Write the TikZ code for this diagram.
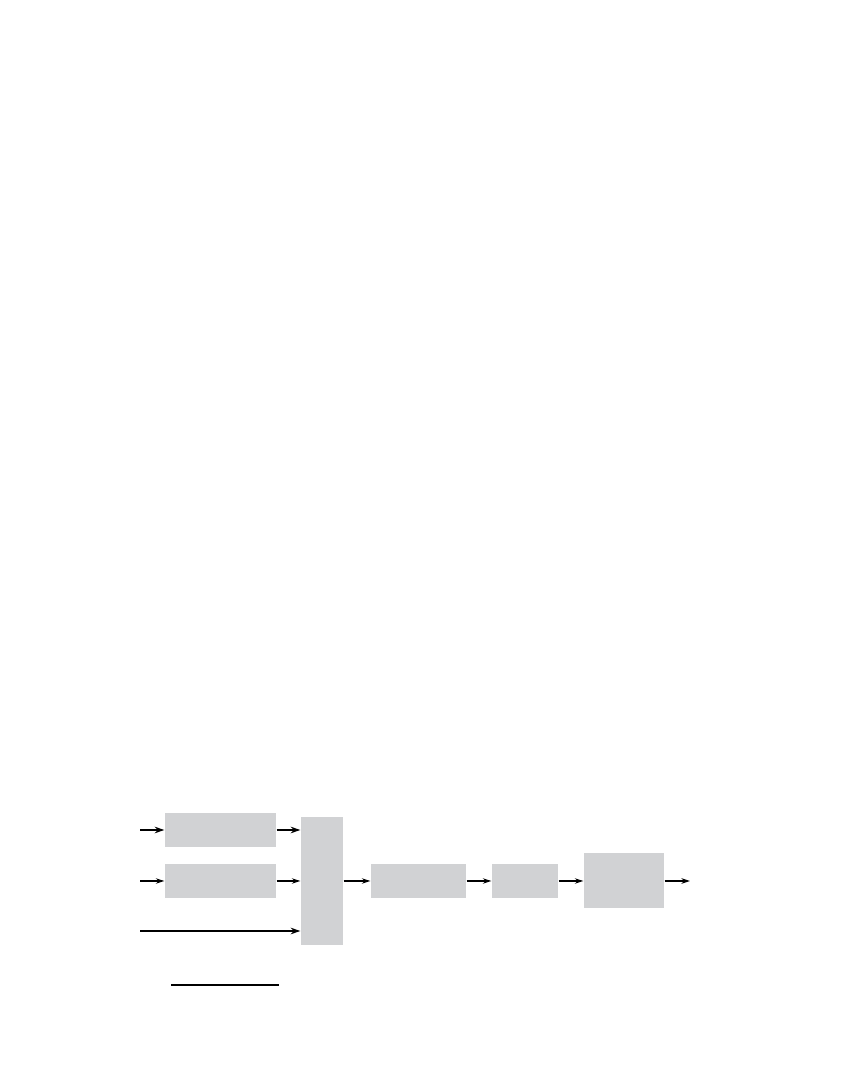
\documentclass[tikz,border=0pt]{standalone}
\usepackage{tikz}
\usetikzlibrary{arrows.meta}
\definecolor{boxgray}{RGB}{209,210,212}

\begin{document}
\begin{tikzpicture}
\tikzstyle{block}=[rectangle,fill=boxgray,inner sep=0pt,minimum height=3.4mm]
\tikzstyle{thin}=[line width=0.32pt,-{Stealth[length=0.85mm,width=0.55mm]}]
\tikzstyle{heavy}=[line width=0.6pt,-{Stealth[length=0.95mm,width=0.65mm]}]
\useasboundingbox (0,0) rectangle (8.64,10.8);

% Input side
\node (BLKA) [block,minimum width=11.1mm] at (2.205,2.50) {};
\node (BLKB) [block,minimum width=11.1mm] at (2.205,1.99) {};
\node (MUX) [block,minimum width=4.2mm,minimum height=12.8mm] at (3.22,1.99) {};

% Chain after the tall block
\node (BLKC) [block,minimum width=9.5mm] at (4.185,1.99) {};
\node (BLKD) [block,minimum width=6.6mm] at (5.25,1.99) {};
\node (BLKE) [block,minimum width=8mm,minimum height=5.5mm] at (6.24,1.99) {};

% Free ends
\coordinate (INA) at (1.40,2.50);
\coordinate (INB) at (1.40,1.99);
\coordinate (INC) at (1.40,1.49);
\coordinate (OUT) at (6.90,1.99);

\draw[heavy] (INA) -- (BLKA.west);
\draw[thin] (INB) -- (BLKB.west);
\draw[heavy] (INC) -- (INC -| MUX.west);

\draw[heavy] (BLKA.east) -- (BLKA.east -| MUX.west);
\draw[thin] (BLKB.east) -- (BLKB.east -| MUX.west);

\draw[thin] (MUX.east) -- (BLKC.west);
\draw[thin] (BLKC.east) -- (BLKD.west);
\draw[thin] (BLKD.east) -- (BLKE.west);
\draw[thin] (BLKE.east) -- (OUT);

% Rule below the diagram
\draw[line width=0.45pt] (1.71,0.95) -- (2.79,0.95);

\end{tikzpicture}
\end{document}
